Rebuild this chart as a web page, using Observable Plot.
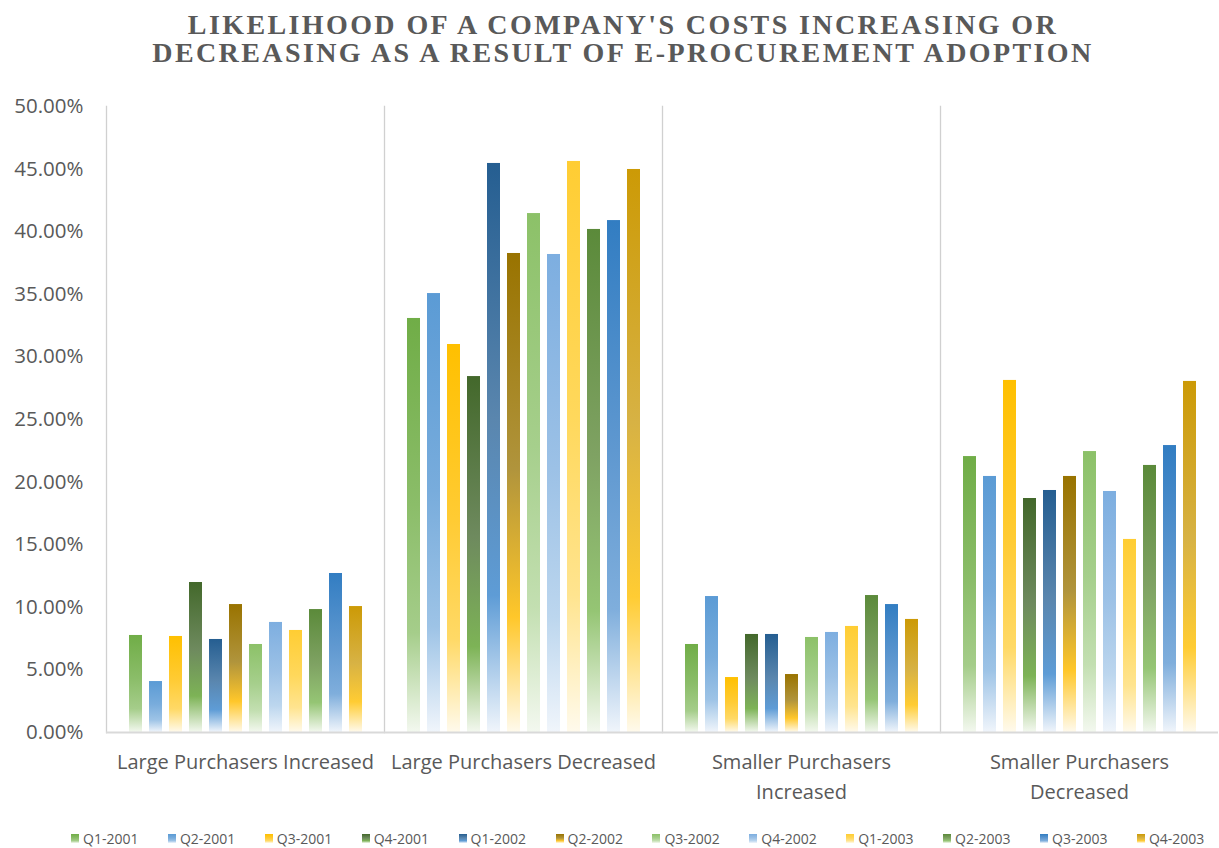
<!DOCTYPE html>
<html>
<head>
<meta charset="utf-8">
<script src="https://cdn.jsdelivr.net/npm/d3@7"></script>
<script src="https://cdn.jsdelivr.net/npm/@observablehq/plot@0.6"></script>
<style>
  html, body { margin: 0; padding: 0; background: #fff; }
  body { width: 1219px; height: 848px; overflow: hidden; position: relative; }
  #title {
    font-family: "Liberation Serif", serif; font-weight: bold; font-size: 28px;
    letter-spacing: 2.4px; color: #595959; text-align: center; line-height: 28px;
    height: 80px; box-sizing: border-box; padding-top: 11px; padding-left: 27px;
    white-space: nowrap;
  }
  #chart { position: absolute; top: 80px; left: 0; }
  #chart svg { display: block; }
  #legend {
    position: absolute; top: 828px; left: 0; width: 1219px; height: 20px;
    font-family: "Open Sans", sans-serif; font-size: 14px; color: #595959;
  }
  .item { position: absolute; top: 0; display: flex; align-items: center; height: 20px; }
  .sw { width: 8px; height: 9px; margin-right: 4px; }
</style>
</head>
<body>
<div id="title">LIKELIHOOD OF A COMPANY'S COSTS INCREASING OR<br>DECREASING AS A RESULT OF E-PROCUREMENT ADOPTION</div>
<div id="chart"></div>
<div id="legend"></div>
<script>
const quarters = ["Q1-2001","Q2-2001","Q3-2001","Q4-2001","Q1-2002","Q2-2002","Q3-2002","Q4-2002","Q1-2003","Q2-2003","Q3-2003","Q4-2003"];
const groups = ["Large Purchasers Increased","Large Purchasers Decreased","Smaller Purchasers Increased","Smaller Purchasers Decreased"];
const groupLabels = ["Large Purchasers Increased","Large Purchasers Decreased","Smaller Purchasers\nIncreased","Smaller Purchasers\nDecreased"];

const largeIncreased   = [0.0775,0.0407,0.0767,0.1198,0.0743,0.1022,0.0703,0.0879,0.0815,0.0982,0.1270,0.1006];
const largeDecreased   = [0.3307,0.3506,0.3099,0.2843,0.4545,0.3826,0.4145,0.3818,0.4561,0.4018,0.4089,0.4497];
const smallerIncreased = [0.0703,0.1086,0.0439,0.0783,0.0783,0.0463,0.0759,0.0799,0.0847,0.1094,0.1022,0.0903];
const smallerDecreased = [0.2204,0.2045,0.2812,0.1869,0.1933,0.2045,0.2244,0.1925,0.1542,0.2133,0.2292,0.2804];

const yTicks = [0,0.05,0.10,0.15,0.20,0.25,0.30,0.35,0.40,0.45,0.50];

const topColors    = ["#70AD47","#5B9BD5","#FFC000","#43682B","#255E91","#997300","#8CC168","#7DAEE0","#FFCD33","#5B8A3A","#327DC2","#CC9A06"];
const grayMidColors= ["#8BBD69","#78ACDC","#FFCB33","#6E8A5E","#5A86AE","#B0943C","#A6CF8C","#9CC1E6","#FFD85C","#7FA263","#5F98D0","#D7B244"];
const midColors    = ["#A5CD8A","#9DC3E6","#FFD966","#7DB356","#5E9CD6","#FFC72A","#C3DFB1","#BCD6EE","#FFE48F","#95C574","#7FAEDC","#FFCC33"];
const bottomColors = ["#F3F8EF","#F0F5FB","#FFFAEC","#F3F8EF","#F0F5FB","#FFFAEC","#F3F8EF","#F0F5FB","#FFFAEC","#F3F8EF","#F0F5FB","#FFFAEC"];

const seriesByGroup = [largeIncreased, largeDecreased, smallerIncreased, smallerDecreased];
const data = [];
groups.forEach((g, gi) => quarters.forEach((q, qi) => data.push({group: g, quarter: q, value: seriesByGroup[gi][qi]})));

const gradIds = quarters.map((q, i) => `grad${i}`);

const plot = Plot.plot({
  width: 1219,
  height: 740,
  marginTop: 26,
  marginBottom: 88,
  marginLeft: 104,
  marginRight: 0,
  style: {fontFamily: "Open Sans, sans-serif", color: "#595959", background: "transparent"},
  fx: {domain: groups, paddingInner: 0, paddingOuter: 0, label: null},
  x: {domain: quarters, paddingInner: 0.364, paddingOuter: 1.0, axis: null},
  y: {domain: [0, 0.5], axis: null},
  color: {type: "ordinal", domain: quarters, range: gradIds.map(id => `url(#${id})`)},
  marks: [
    Plot.frame({anchor: "left", stroke: "#d0d0d0", strokeWidth: 1.3}),
    Plot.barY(data, {fx: "group", x: "quarter", y: "value", fill: "quarter"}),
    Plot.ruleY([0], {stroke: "#d9d9d9", strokeWidth: 2}),
    Plot.axisY({ticks: yTicks, tickFormat: d3.format(".2%"), tickSize: 0, tickPadding: 23, fontSize: 20.5, anchor: "left", label: null}),
    Plot.axisFx({tickSize: 0, tickPadding: 15, fontSize: 20, lineHeight: 1.5, anchor: "bottom", label: null,
      tickFormat: d => groupLabels[groups.indexOf(d)]})
  ]
});

// gradient definitions
const svgSel = d3.select(plot);
const defs = svgSel.insert("defs", ":first-child");
quarters.forEach((q, i) => {
  const lg = defs.append("linearGradient").attr("id", gradIds[i])
    .attr("x1", 0).attr("y1", 0).attr("x2", 0).attr("y2", 1);
  lg.append("stop").attr("offset", "0").attr("stop-color", topColors[i]);
  lg.append("stop").attr("offset", "0.45").attr("stop-color", grayMidColors[i]);
  lg.append("stop").attr("offset", "0.76").attr("stop-color", midColors[i]);
  lg.append("stop").attr("offset", "1").attr("stop-color", bottomColors[i]);
});
document.getElementById("chart").appendChild(plot);

// legend
const legend = document.getElementById("legend");
quarters.forEach((q, i) => {
  const it = document.createElement("div");
  it.className = "item";
  it.style.left = (71 + i * 96.9) + "px";
  const sw = document.createElement("div");
  sw.className = "sw";
  sw.style.background = `linear-gradient(${topColors[i]}, ${grayMidColors[i]} 45%, ${midColors[i]} 76%, ${bottomColors[i]})`;
  const t = document.createElement("span");
  t.textContent = q;
  it.appendChild(sw); it.appendChild(t);
  legend.appendChild(it);
});
</script>
</body>
</html>
